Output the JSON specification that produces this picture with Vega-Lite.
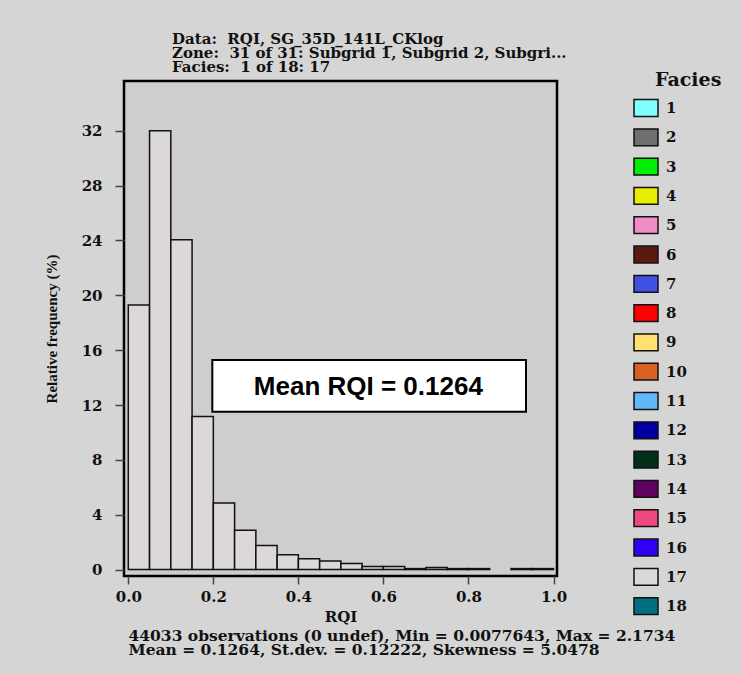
{
  "$schema": "https://vega.github.io/schema/vega-lite/v6.json",
  "width": 433,
  "height": 495,
  "autosize": "none",
  "padding": {"left": 124, "top": 81, "right": 185, "bottom": 98},
  "background": "#d5d5d5",
  "title": {
    "text": ["Data:\u00a0\u00a0RQI, SG_35D_141L_CKlog", "Zone:\u00a0\u00a031 of 31: Subgrid 1, Subgrid 2, Subgri...", "Facies:\u00a0\u00a01 of 18: 17"],
    "anchor": "start",
    "frame": "group",
    "dx": 48,
    "offset": -4,
    "font": "DejaVu Serif",
    "fontSize": 15,
    "fontWeight": "bold",
    "lineHeight": 14,
    "color": "#111111"
  },
  "config": {
    "view": {"fill": "#cecece", "stroke": "#000000", "strokeWidth": 2.5}
  },
  "layer": [
    {
      "data": {
        "values": [
          {"bin_start": 0.00, "bin_end": 0.05, "freq": 19.3, "facies": "17"},
          {"bin_start": 0.05, "bin_end": 0.10, "freq": 32.0, "facies": "17"},
          {"bin_start": 0.10, "bin_end": 0.15, "freq": 24.05, "facies": "17"},
          {"bin_start": 0.15, "bin_end": 0.20, "freq": 11.17, "facies": "17"},
          {"bin_start": 0.20, "bin_end": 0.25, "freq": 4.85, "facies": "17"},
          {"bin_start": 0.25, "bin_end": 0.30, "freq": 2.87, "facies": "17"},
          {"bin_start": 0.30, "bin_end": 0.35, "freq": 1.75, "facies": "17"},
          {"bin_start": 0.35, "bin_end": 0.40, "freq": 1.08, "facies": "17"},
          {"bin_start": 0.40, "bin_end": 0.45, "freq": 0.78, "facies": "17"},
          {"bin_start": 0.45, "bin_end": 0.50, "freq": 0.62, "facies": "17"},
          {"bin_start": 0.50, "bin_end": 0.55, "freq": 0.45, "facies": "17"},
          {"bin_start": 0.55, "bin_end": 0.60, "freq": 0.22, "facies": "17"},
          {"bin_start": 0.60, "bin_end": 0.65, "freq": 0.22, "facies": "17"},
          {"bin_start": 0.65, "bin_end": 0.70, "freq": 0.07, "facies": "17"},
          {"bin_start": 0.70, "bin_end": 0.75, "freq": 0.15, "facies": "17"},
          {"bin_start": 0.75, "bin_end": 0.80, "freq": 0.07, "facies": "17"},
          {"bin_start": 0.80, "bin_end": 0.85, "freq": 0.07, "facies": "17"},
          {"bin_start": 0.90, "bin_end": 0.95, "freq": 0.07, "facies": "17"},
          {"bin_start": 0.95, "bin_end": 1.00, "freq": 0.07, "facies": "17"}
        ]
      },
      "mark": {"type": "bar", "stroke": "#111111", "strokeWidth": 1.5, "opacity": 1},
      "encoding": {
        "x": {
          "field": "bin_start",
          "type": "quantitative",
          "scale": {"domain": [-0.0101, 1.0082], "nice": false, "zero": false},
          "axis": {
            "orient": "bottom",
            "title": "RQI",
            "values": [0, 0.2, 0.4, 0.6, 0.8, 1.0],
            "format": ".1f",
            "grid": false,
            "domain": false,
            "tickColor": "#444444",
            "tickWidth": 1.5,
            "tickSize": 8,
            "labelFont": "DejaVu Serif",
            "labelFontSize": 15,
            "labelFontWeight": "bold",
            "labelColor": "#111111",
            "labelPadding": 5,
            "titleFont": "DejaVu Serif",
            "titleFontSize": 15,
            "titleFontWeight": "bold",
            "titleColor": "#111111",
            "titleBaseline": "top",
            "titleY": 33
          }
        },
        "x2": {"field": "bin_end"},
        "y": {
          "field": "freq",
          "type": "quantitative",
          "stack": null,
          "scale": {"domain": [-0.47, 35.63], "nice": false, "zero": false},
          "axis": {
            "title": "Relative frequency (%)",
            "values": [0, 4, 8, 12, 16, 20, 24, 28, 32],
            "grid": false,
            "domain": false,
            "tickColor": "#444444",
            "tickWidth": 1.5,
            "tickSize": 9,
            "labelFont": "DejaVu Serif",
            "labelFontSize": 15,
            "labelFontWeight": "bold",
            "labelColor": "#111111",
            "labelPadding": 13,
            "titleFont": "Liberation Serif",
            "titleFontSize": 15,
            "titleFontWeight": "bold",
            "titleColor": "#111111",
            "titleX": -73,
            "titleBaseline": "middle"
          }
        },
        "y2": {"datum": 0},
        "color": {
          "field": "facies",
          "type": "nominal",
          "scale": {
            "domain": ["1", "2", "3", "4", "5", "6", "7", "8", "9", "10", "11", "12", "13", "14", "15", "16", "17", "18"],
            "range": ["#80ffff", "#6e6e6e", "#00ee00", "#e6ee00", "#f08cc8", "#5a1a10", "#4050e0", "#ff0000", "#ffe070", "#d86020", "#60b8f8", "#0000a0", "#003018", "#600060", "#f04880", "#3000f8", "#ddd8d8", "#007080"]
          },
          "legend": {
            "orient": "none",
            "legendX": 531,
            "legendY": -10,
            "title": "Facies",
            "titleFont": "DejaVu Serif",
            "titleFontSize": 19,
            "titleFontWeight": "bold",
            "titleColor": "#111111",
            "titlePadding": 5,
            "labelFont": "DejaVu Serif",
            "labelFontSize": 15,
            "labelFontWeight": "bold",
            "labelColor": "#111111",
            "labelOffset": 7,
            "symbolType": "M-1,-0.7H1V0.7H-1Z",
            "symbolSize": 576,
            "symbolStrokeColor": "#111111",
            "symbolStrokeWidth": 1.5,
            "symbolOpacity": 1,
            "symbolOffset": -22,
            "rowPadding": 4.3
          }
        }
      }
    },
    {
      "data": {"values": [{"label": "Mean RQI = 0.1264"}]},
      "mark": {"type": "rect", "fill": "#ffffff", "stroke": "#000000", "strokeWidth": 2},
      "encoding": {
        "x": {
          "datum": 0.1976,
          "type": "quantitative",
          "axis": {
            "orient": "bottom",
            "title": ["44033 observations (0 undef), Min = 0.0077643, Max = 2.1734", "Mean = 0.1264, St.dev. = 0.12222, Skewness = 5.0478"],
            "labels": false,
            "ticks": false,
            "domain": false,
            "grid": false,
            "titleFont": "DejaVu Serif",
            "titleFontSize": 15.5,
            "titleFontWeight": "bold",
            "titleColor": "#111111",
            "titleAlign": "left",
            "titleAnchor": "start",
            "titleBaseline": "alphabetic",
            "titleX": 4,
            "titleY": 64,
            "titleLineHeight": 14.5
          }
        },
        "x2": {"datum": 0.9353},
        "y": {"datum": 15.28, "type": "quantitative"},
        "y2": {"datum": 11.51}
      }
    },
    {
      "data": {"values": [{"label": "Mean RQI = 0.1264"}]},
      "mark": {"type": "text", "font": "Liberation Sans", "fontSize": 26, "fontWeight": "bold", "color": "#000000", "align": "center", "baseline": "middle"},
      "encoding": {
        "x": {"datum": 0.5645, "type": "quantitative", "axis": null},
        "y": {"datum": 13.33, "type": "quantitative"},
        "text": {"field": "label"}
      }
    }
  ],
  "resolve": {"axis": {"x": "independent"}}
}
